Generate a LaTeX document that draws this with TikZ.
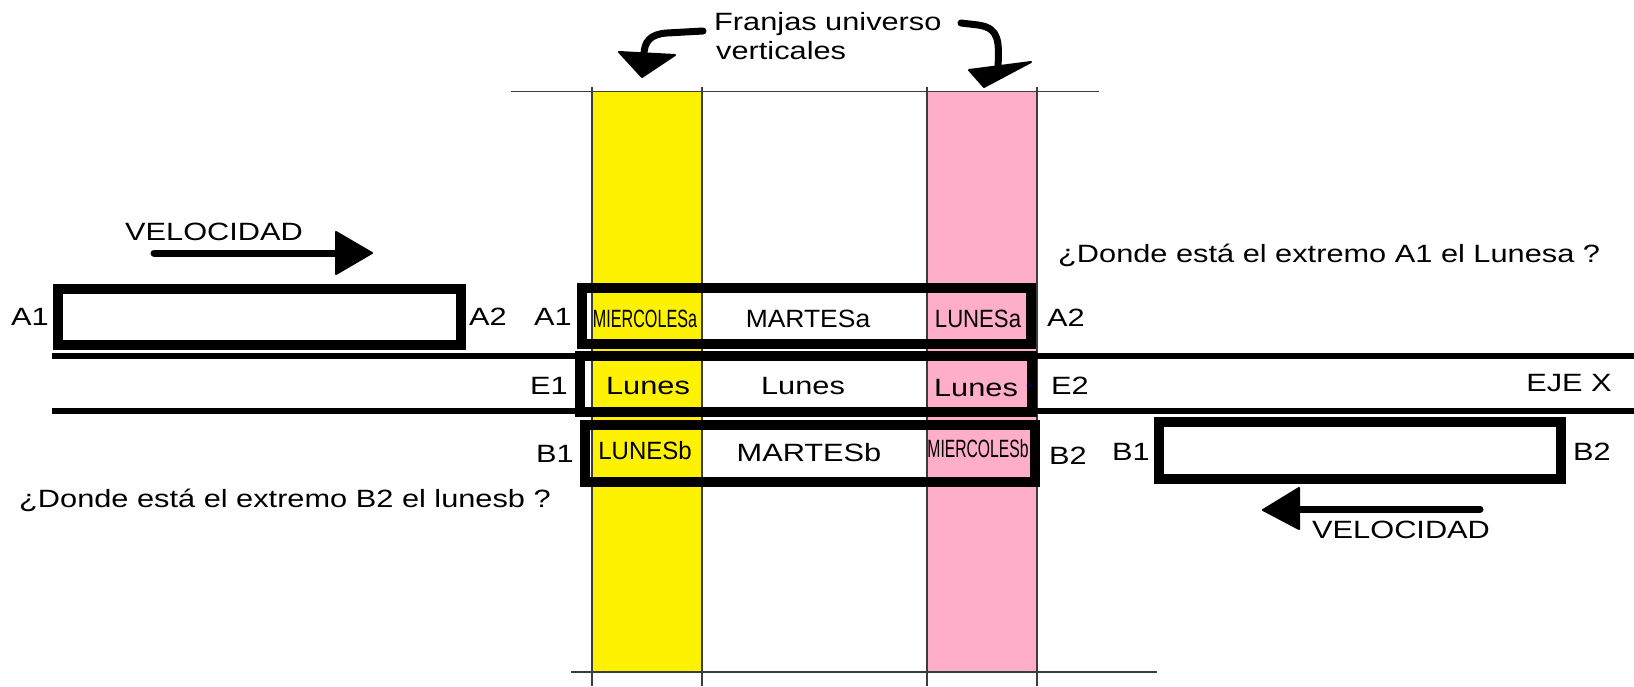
\documentclass[tikz,border=0pt]{standalone}
\usepackage{fontspec}
\setmainfont[FakeStretch=1.23]{Liberation Sans}
\usepackage{graphicx}
\definecolor{stripyellow}{RGB}{255,242,0}
\definecolor{strippink}{RGB}{255,174,201}
\definecolor{thingray}{RGB}{60,60,60}
\tikzset{
  txt/.style={font=\fontsize{25}{30}\selectfont, inner sep=0pt, anchor=base},
  txtl/.style={txt, anchor=base west},
  bar/.style={draw=black, line width=10pt, minimum width=#1, inner sep=0pt},
  thin/.style={draw=thingray, line width=1.5pt},
  eje/.style={draw=black, line width=6pt},
  shaft/.style={draw=black, line width=7pt, line cap=round, line join=round},
  head/.style={fill=black, draw=black, line width=2pt, line join=round}
}
\begin{document}
\begin{tikzpicture}[x=1pt,y=-1pt]
\useasboundingbox (0,0) rectangle (1634,686);
\fill[white] (0,0) rectangle (1634,686);
% strips
\fill[stripyellow] (592,92) rectangle (702,672);
\fill[strippink] (927,92) rectangle (1037,672);
\draw[thin] (511,91.5) -- (1099,91.5);
\draw[thin] (571,672) -- (1157,672);
\foreach \xx in {592,702,927,1037} { \draw[thin] (\xx,87) -- (\xx,686); }
% EJE X lines
\coordinate (ejeTopL) at (52,356);
\coordinate (ejeTopR) at (1634,356);
\coordinate (ejeBotL) at (52,411);
\coordinate (ejeBotR) at (1634,411);
\draw[eje] (ejeTopL) -- (ejeTopR);
\draw[eje] (ejeBotL) -- (ejeBotR);
% boxes
\node[bar=403pt, minimum height=56pt] (boxAL) at (259.5,317) {};
\node[bar=449pt, minimum height=56pt] (boxA) at (806.5,316) {};
\node[bar=452pt, minimum height=56pt] (boxE) at (806,384) {};
\node[bar=450pt, minimum height=57pt] (boxB) at (810,453.5) {};
\node[bar=402pt, minimum height=57pt] (boxBR) at (1360,450.5) {};
% labels
\node[txt] (lA1) at (30,325) {A1};
\node[txt] (lA2) at (488,325) {A2};
\node[txt] (mA1) at (553,325) {A1};
\node[txt] (mA2) at (1066,326) {A2};
\node[txt] (mE1) at (549,394) {E1};
\node[txt] (mE2) at (1070,394) {E2};
\node[txt] (mB1) at (555,462) {B1};
\node[txt] (mB2) at (1068,464) {B2};
\node[txt] (rB1) at (1131,460) {B1};
\node[txt] (rB2) at (1592,460) {B2};
\node[txt] (ejex) at (1569,391) {EJE X};
% box texts
\node[txt] (tMa) at (645,327) {\scalebox{0.525}[1]{MIERCOLESa}};
\node[txt] (tTa) at (808,327) {\scalebox{0.86}[1]{MARTESa}};
\node[txt] (tLa) at (978,327) {\scalebox{0.72}[1]{LUNESa}};
\node[txt] (tL1) at (648,394) {Lunes};
\node[txt] (tL2) at (803,394) {Lunes};
\node[txt] (tL3) at (976,396) {Lunes};
\node[font=\fontsize{8}{9}\selectfont, text=blue!50!black, inner sep=0pt] (tiny) at (1029,385) {a};
\node[txt] (tLb) at (645,459) {\scalebox{0.78}[1]{LUNESb}};
\node[txt] (tTb) at (809,461) {MARTESb};
\node[txt] (tMb) at (978,457) {\scalebox{0.51}[1]{MIERCOLESb}};
% questions
\node[txtl] (q1) at (1058,262) {¿Donde está el extremo A1 el Lunesa ?};
\node[txtl] (q2) at (19,507) {¿Donde está el extremo B2 el  lunesb ?};
% title
\node[txtl] (t1) at (714,30) {Franjas universo};
\node[txtl] (t2) at (716,59) {verticales};
% velocity arrows
\node[txtl] (v1) at (125,240) {VELOCIDAD};
\node[txtl] (v2) at (1312,538) {VELOCIDAD};
\coordinate (v1s) at (154,253);
\coordinate (v1b) at (336,253);
\coordinate (v1t) at (372,253);
\draw[shaft] (v1s) -- (v1b);
\draw[head] (336,232) -- (v1t) -- (336,274) -- cycle;
\coordinate (v2s) at (1480,509);
\coordinate (v2b) at (1298,509);
\coordinate (v2t) at (1263,510);
\draw[shaft] (v2s) -- (v2b);
\draw[head] (1299,488) -- (v2t) -- (1299,529) -- cycle;
% title arrows
\coordinate (fa1) at (703,31);
\coordinate (fa2) at (644,55);
\draw[shaft] (fa1) -- (667,33) .. controls (650,34) and (644,42) .. (fa2);
\draw[head] (619,52) -- (675,55) -- (642,77) -- cycle;
\coordinate (fb1) at (961,23);
\coordinate (fb2) at (998,68);
\draw[shaft] (fb1) -- (978,25) .. controls (1000,28) and (999,42) .. (fb2);
\draw[head] (969,70) -- (1031,62) -- (984,87) -- cycle;
\end{tikzpicture}
\end{document}
